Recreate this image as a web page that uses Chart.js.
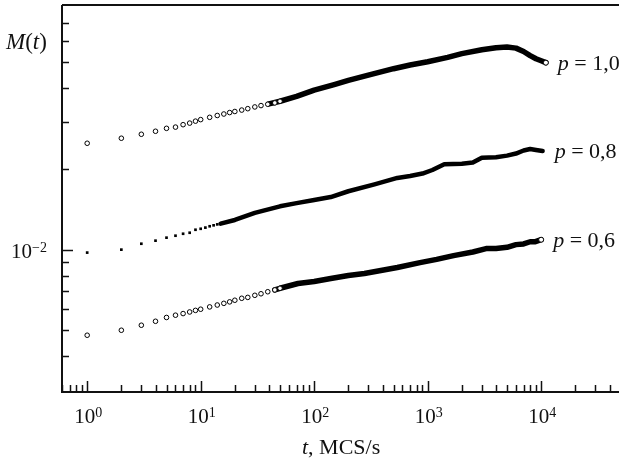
<!DOCTYPE html>
<html>
<head>
<meta charset="utf-8">
<script src="https://cdn.jsdelivr.net/npm/chart.js@4.4.0/dist/chart.umd.min.js"></script>
<style>
  body { margin: 0; background: #fff; }
  canvas { display: block; }
</style>
</head>
<body>
<canvas id="chartM" width="624" height="461"></canvas>
<script>
// first steps, drawn as single markers
const tEarly = [1, 2, 3, 4, 5, 6, 7, 8, 9, 10];
const p10Early = [0.0249, 0.026, 0.0269, 0.0276, 0.0283, 0.0286, 0.0292, 0.0296, 0.0301, 0.0305];
const p08Early = [0.00975, 0.01, 0.01052, 0.0108, 0.01108, 0.01127, 0.01146, 0.01156, 0.01186, 0.01196];
const p06Early = [0.0048, 0.00501, 0.00523, 0.00541, 0.00559, 0.0057, 0.00578, 0.00586, 0.00594, 0.006];

// markers that start to overlap
const tChain = [12, 14, 16, 18, 20, 23, 26, 30, 34, 39, 45, 50];
const p10Chain = [0.0311, 0.0316, 0.032, 0.0324, 0.0327, 0.0331, 0.0335, 0.034, 0.0344, 0.0348, 0.0352, 0.0357];
const p06Chain = [0.00612, 0.00622, 0.00631, 0.00639, 0.00648, 0.00659, 0.00664, 0.00676, 0.00685, 0.00697, 0.00708, 0.00718];
const tChain08 = [11, 12, 13, 14, 16, 18, 20];
const p08Chain = [0.01208, 0.01222, 0.01232, 0.01242, 0.01259, 0.01276, 0.01292];

// dense part, markers merge into a thick trace
const tTrace10 = [40, 50, 70, 100, 150, 200, 300, 500, 700, 1000, 1500, 2000, 3000, 4000, 5000, 6000, 7000, 8000, 9000, 10000, 11000];
const p10Trace = [0.0349, 0.0357, 0.0372, 0.0393, 0.0412, 0.0427, 0.0447, 0.0472, 0.0487, 0.0501, 0.052, 0.0537, 0.0555, 0.0565, 0.0568, 0.0563, 0.0547, 0.0528, 0.0514, 0.0505, 0.0497];
const tTrace08 = [15, 20, 30, 50, 70, 100, 140, 200, 340, 540, 700, 900, 1100, 1400, 2000, 2500, 3000, 4000, 5000, 6000, 7000, 8000, 9000, 10300];
const p08Trace = [0.0125, 0.0129, 0.0137, 0.0145, 0.0149, 0.0153, 0.0157, 0.0165, 0.0175, 0.0185, 0.0188, 0.0192, 0.0198, 0.0208, 0.0209, 0.0211, 0.022, 0.0221, 0.0224, 0.0228, 0.0234, 0.0237, 0.0235, 0.0233];
const tTrace06 = [45, 50, 72, 100, 140, 200, 277, 540, 856, 1200, 1690, 2500, 3270, 4000, 5000, 6000, 7000, 8000, 8900, 10000];
const p06Trace = [0.00708, 0.00718, 0.00748, 0.00761, 0.00781, 0.00801, 0.00815, 0.00858, 0.00895, 0.0092, 0.0095, 0.0098, 0.01009, 0.01009, 0.0102, 0.01044, 0.0105, 0.0107, 0.01071, 0.01089];

const pLabels = ["1,0", "0,8", "0,6"];
const xTickPowers = [0, 1, 2, 3, 4];
const yTickPowers = [-2];

const SERIF = '"Liberation Serif", "Times New Roman", serif';

const toPoints = (t, m) => t.map((v, i) => ({ x: v, y: m[i] }));

const openMarks = (t, m) => ({
  data: toPoints(t, m),
  order: 0,
  pointStyle: "circle",
  pointRadius: 2.3,
  pointBorderWidth: 1,
  pointBorderColor: "#000",
  pointBackgroundColor: "#fff",
});

const squareMarks = (t, m) => ({
  data: toPoints(t, m),
  order: 0,
  pointStyle: "rect",
  pointRadius: 1.9,
  pointBorderWidth: 0,
  pointBackgroundColor: "#000",
});

const trace = (t, m, width, endMark, label) => ({
  data: toPoints(t, m),
  order: 1,
  showLine: true,
  borderColor: "#000",
  borderWidth: width,
  borderJoinStyle: "round",
  borderCapStyle: "round",
  tension: 0,
  pointStyle: "circle",
  pointRadius: (c) => (endMark && c.dataIndex === t.length - 1 ? 2.5 : 0),
  pointBorderWidth: 1,
  pointBorderColor: "#000",
  pointBackgroundColor: "#fff",
  pLabel: label,
});

// 1..9 times every decade inside the scale range
const logTicks = (scale) => {
  const out = [];
  const lo = Math.floor(Math.log10(scale.min));
  const hi = Math.ceil(Math.log10(scale.max));
  for (let e = lo; e <= hi; e++) {
    for (let d = 1; d <= 9; d++) {
      const v = d * Math.pow(10, e);
      if (v > scale.min && v < scale.max) out.push({ value: v, digit: d });
    }
  }
  return out;
};

const powerLabel = (ctx, exp, x, y, align) => {
  ctx.font = "21px " + SERIF;
  const baseW = ctx.measureText("10").width;
  ctx.font = "14px " + SERIF;
  const expW = ctx.measureText(exp).width;
  const total = baseW + expW;
  let left = x - total / 2;
  if (align === "right") left = x - total;
  ctx.textAlign = "left";
  ctx.font = "21px " + SERIF;
  ctx.fillText("10", left, y);
  ctx.font = "14px " + SERIF;
  ctx.fillText(exp, left + baseW, y - 6);
};

const mixedText = (ctx, parts, x, y, size) => {
  ctx.textAlign = "left";
  parts.forEach(([txt, italic]) => {
    ctx.font = (italic ? "italic " : "") + size + "px " + SERIF;
    ctx.fillText(txt, x, y);
    x += ctx.measureText(txt).width;
  });
  return x;
};

const frame = {
  id: "frame",
  afterDraw(chart) {
    const { ctx, chartArea: a } = chart;
    const xs = chart.scales.x;
    const ys = chart.scales.y;
    ctx.save();
    ctx.strokeStyle = "#111";
    ctx.fillStyle = "#111";
    ctx.lineWidth = 2;
    ctx.beginPath();
    ctx.moveTo(a.left, a.top);
    ctx.lineTo(a.right, a.top);
    ctx.moveTo(a.left, a.top);
    ctx.lineTo(a.left, a.bottom);
    ctx.lineTo(a.right, a.bottom);
    ctx.stroke();

    // ticks point inside the box
    ctx.lineWidth = 1.5;
    ctx.beginPath();
    logTicks(xs).forEach((tk) => {
      const px = Math.round(xs.getPixelForValue(tk.value)) + 0.5;
      ctx.moveTo(px, a.bottom);
      ctx.lineTo(px, a.bottom - (tk.digit === 1 ? 11 : 7));
    });
    logTicks(ys).forEach((tk) => {
      const py = Math.round(ys.getPixelForValue(tk.value)) + 0.5;
      if (py <= a.top + 3 || py >= a.bottom - 3) return;
      ctx.moveTo(a.left, py);
      ctx.lineTo(a.left + (tk.digit === 1 ? 11 : 7), py);
    });
    ctx.stroke();

    ctx.textBaseline = "alphabetic";
    xTickPowers.forEach((p) => {
      const px = xs.getPixelForValue(Math.pow(10, p));
      powerLabel(ctx, String(p), px + 1, a.bottom + 31, "center");
    });
    yTickPowers.forEach((p) => {
      const py = ys.getPixelForValue(Math.pow(10, p));
      powerLabel(ctx, p < 0 ? "\u2212" + Math.abs(p) : String(p), a.left - 15, py + 8, "right");
    });

    // axis titles
    mixedText(ctx, [["M", true], ["(", false], ["t", true], [")", false]], 6, 49, 23);
    mixedText(ctx, [["t", true], [", MCS/s", false]], 302, 454, 22);

    // curve names next to the last point
    chart.data.datasets.forEach((ds, i) => {
      if (!ds.pLabel) return;
      const pts = chart.getDatasetMeta(i).data;
      const last = pts[pts.length - 1];
      mixedText(ctx, [["p", true], [" = " + ds.pLabel, false]], last.x + 12, last.y + 7, 22);
    });
    ctx.restore();
  },
};

new Chart(document.getElementById("chartM"), {
  type: "scatter",
  data: {
    datasets: [
      openMarks(tEarly, p10Early),
      openMarks(tChain, p10Chain),
      squareMarks(tEarly, p08Early),
      squareMarks(tChain08, p08Chain),
      openMarks(tEarly, p06Early),
      openMarks(tChain, p06Chain),
      trace(tTrace10, p10Trace, 5.5, true, pLabels[0]),
      trace(tTrace08, p08Trace, 4.5, false, pLabels[1]),
      trace(tTrace06, p06Trace, 5.5, true, pLabels[2]),
    ],
  },
  options: {
    responsive: false,
    animation: false,
    devicePixelRatio: 1,
    layout: { padding: { left: 62, top: 3, right: 0, bottom: 69 } },
    plugins: { legend: { display: false }, tooltip: { enabled: false } },
    scales: {
      x: { type: "logarithmic", min: 0.6, max: 48500, display: false },
      y: { type: "logarithmic", min: 0.00295, max: 0.0815, display: false },
    },
  },
  plugins: [frame],
});
</script>
</body>
</html>
